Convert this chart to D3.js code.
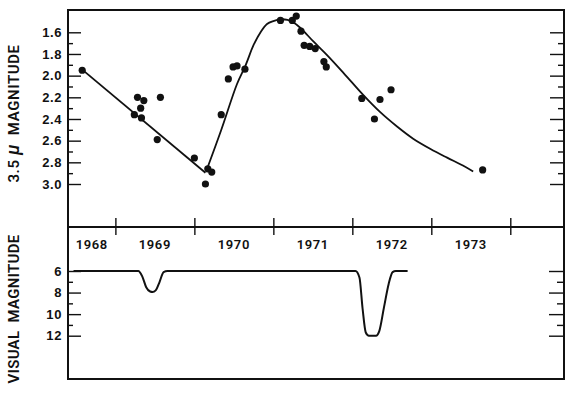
<!DOCTYPE html>
<html lang="en">
<head>
  <meta charset="UTF-8">
  <title>3.5 micron and visual magnitude</title>
  <style>
    body { margin: 0; background: #fff; }
    svg { display: block; font-family: Roboto, 'DejaVu Sans', sans-serif; }
    .tick text { font-size: 13px; font-weight: 600; fill: #111; letter-spacing: 0.6px; }
    .tick line { stroke: #111; stroke-width: 1.4; }
    .frame { fill: none; stroke: #111; stroke-width: 2; }
  </style>
</head>
<body>
  <svg id="chart" width="570" height="394"></svg>
  <script src="https://d3js.org/d3.v7.min.js"></script>
  <script>
    // year labels along the shared time axis
    const years = [1968, 1969, 1970, 1971, 1972, 1973];
    const yearTicks = [1969, 1970, 1971, 1972, 1973, 1974];

    // 3.5 micron observations (year, magnitude)
    const irYear = [1968.58, 1969.28, 1969.36, 1969.32, 1969.24, 1969.33, 1969.57, 1969.53,
      1970.00, 1970.17, 1970.22, 1970.14, 1970.34, 1970.43, 1970.49, 1970.54, 1970.64,
      1971.09, 1971.24, 1971.29, 1971.35, 1971.39, 1971.46, 1971.53, 1971.64, 1971.67,
      1972.12, 1972.28, 1972.35, 1972.49, 1973.65];
    const irMag = [1.95, 2.20, 2.23, 2.30, 2.36, 2.39, 2.20, 2.59,
      2.76, 2.86, 2.89, 3.00, 2.36, 2.03, 1.92, 1.91, 1.94,
      1.49, 1.49, 1.45, 1.59, 1.72, 1.73, 1.75, 1.87, 1.92,
      2.21, 2.40, 2.22, 2.13, 2.87];

    // hand-drawn trend through the 3.5 micron points
    const fall1Year = [1968.58, 1970.14];
    const fall1Mag = [1.945, 2.896];
    const riseYear = [1970.16, 1970.34, 1970.54, 1970.65, 1970.75, 1970.84, 1970.92, 1971.00,
      1971.09, 1971.18, 1971.25, 1971.34, 1971.51, 1971.68, 1971.89, 1972.14, 1972.35,
      1972.57, 1972.77, 1972.99, 1973.20, 1973.40, 1973.53];
    const riseMag = [2.862, 2.502, 2.077, 1.902, 1.717, 1.597, 1.523, 1.496,
      1.480, 1.486, 1.508, 1.558, 1.687, 1.810, 1.976, 2.180, 2.335,
      2.472, 2.582, 2.677, 2.757, 2.830, 2.885];

    // visual light curve
    const visYear = [1968.47, 1969.29, 1969.34, 1969.39, 1969.44, 1969.47, 1969.51, 1969.56,
      1969.61, 1969.66, 1972.04, 1972.09, 1972.13, 1972.17, 1972.21, 1972.30, 1972.34,
      1972.40, 1972.46, 1972.51, 1972.55, 1972.70];
    const visMag = [6, 6, 6.5, 7.5, 7.9, 7.95, 7.8, 7.0,
      6.1, 6, 6, 6.6, 9.5, 11.7, 12, 12, 11.6,
      9.4, 7.2, 6.1, 6, 6];

    const irMajor = [1.6, 1.8, 2.0, 2.2, 2.4, 2.6, 2.8, 3.0];
    const irMinor = [1.7, 1.9, 2.1, 2.3, 2.5, 2.7, 2.9];
    const visMajor = [6, 8, 10, 12];
    const visMinor = [7, 9, 11];

    const svg = d3.select('#chart');
    const L = 68, R = 564, T = 10, M = 227, B = 379;

    const x = d3.scaleLinear().domain([1968.4, 1974.68]).range([L, R]);
    const yIR = d3.scaleLinear().domain([1.6, 3.0]).range([32.3, 184]);
    const yV = d3.scaleLinear().domain([6, 12]).range([271, 335.7]);

    function ticks(axisFn, scale, values, size, labels, tx) {
      const a = axisFn(scale).tickValues(values).tickSize(size).tickPadding(6);
      a.tickFormat(labels ? labels : '');
      const g = svg.append('g').attr('transform', tx).call(a);
      g.select('.domain').remove();
      return g;
    }

    // 3.5 micron panel axes
    ticks(d3.axisLeft, yIR, irMajor, -13, d3.format('.1f'), `translate(${L},0)`);
    ticks(d3.axisLeft, yIR, irMinor, -5, null, `translate(${L},0)`);
    ticks(d3.axisRight, yIR, irMajor, -14, null, `translate(${R},0)`);
    ticks(d3.axisRight, yIR, irMinor, -6, null, `translate(${R},0)`);

    // visual panel axes
    ticks(d3.axisLeft, yV, visMajor, -13, d3.format('d'), `translate(${L},0)`);
    ticks(d3.axisLeft, yV, visMinor, -5, null, `translate(${L},0)`);
    ticks(d3.axisRight, yV, visMajor, -15, null, `translate(${R},0)`);
    ticks(d3.axisRight, yV, visMinor, -7, null, `translate(${R},0)`);

    // year ticks crossing the middle line
    const gx = ticks(d3.axisBottom, x, yearTicks, 8, null, `translate(0,${M})`);
    gx.selectAll('.tick line').attr('y1', -9);

    svg.append('g').selectAll('text')
      .data(years).enter().append('text')
      .attr('x', d => (x(Math.max(d, 1968.4)) + x(d + 1)) / 2)
      .attr('y', 248.5)
      .attr('text-anchor', 'middle')
      .attr('font-size', 13).attr('font-weight', 600).attr('fill', '#111')
      .attr('letter-spacing', 0.6)
      .text(d => d);

    // frame
    svg.append('rect').attr('class', 'frame')
      .attr('x', L).attr('y', T).attr('width', R - L).attr('height', B - T);
    svg.append('line').attr('class', 'frame')
      .attr('x1', L).attr('x2', R).attr('y1', M).attr('y2', M);

    // trend lines
    const lineIR = d3.line().x(d => x(d[0])).y(d => yIR(d[1])).curve(d3.curveCatmullRom.alpha(0.5));
    svg.append('path').datum(d3.zip(fall1Year, fall1Mag))
      .attr('d', lineIR).attr('fill', 'none').attr('stroke', '#111').attr('stroke-width', 1.8);
    svg.append('path').datum(d3.zip(riseYear, riseMag))
      .attr('d', lineIR).attr('fill', 'none').attr('stroke', '#111').attr('stroke-width', 1.8);

    // observations
    svg.append('g').selectAll('circle')
      .data(d3.zip(irYear, irMag)).enter().append('circle')
      .attr('cx', d => x(d[0])).attr('cy', d => yIR(d[1]))
      .attr('r', 3.6).attr('fill', '#111');

    // visual curve
    const lineV = d3.line().x(d => x(d[0])).y(d => yV(d[1])).curve(d3.curveMonotoneX);
    svg.append('path').datum(d3.zip(visYear, visMag))
      .attr('d', lineV).attr('fill', 'none').attr('stroke', '#111').attr('stroke-width', 2);

    // axis titles
    const t1 = svg.append('text')
      .attr('transform', 'translate(19,113.5) rotate(-90)')
      .attr('text-anchor', 'middle')
      .attr('font-size', 15).attr('font-weight', 600).attr('fill', '#111')
      .attr('letter-spacing', 0.6)
      .style('white-space', 'pre');
    t1.append('tspan').text('3.5 ');
    t1.append('tspan').attr('font-style', 'italic').attr('font-size', 18).text('\u03bc');
    t1.append('tspan').text('  MAGNITUDE');

    svg.append('text')
      .attr('transform', 'translate(19,309) rotate(-90)')
      .attr('text-anchor', 'middle')
      .attr('font-size', 15).attr('font-weight', 600).attr('fill', '#111')
      .attr('letter-spacing', 0.3)
      .style('white-space', 'pre')
      .text('VISUAL  MAGNITUDE');
  </script>
</body>
</html>
